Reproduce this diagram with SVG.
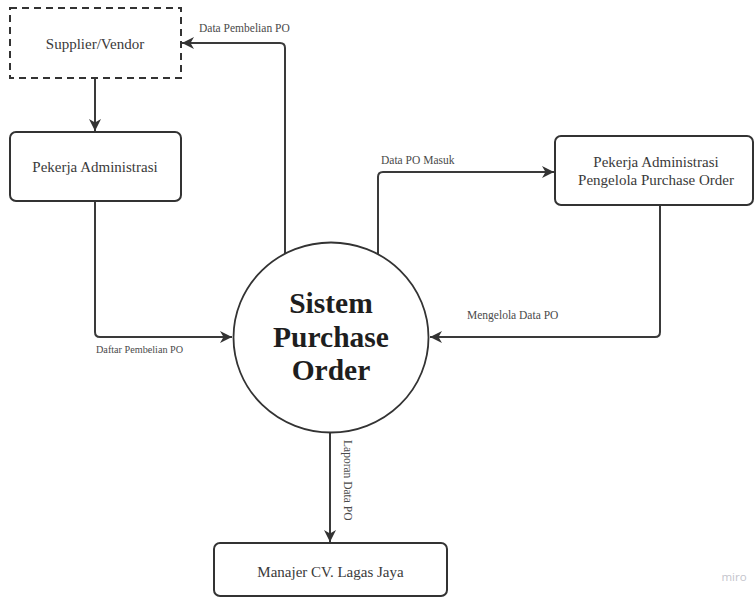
<svg xmlns="http://www.w3.org/2000/svg" width="754" height="598" viewBox="0 0 754 598">
<style>
.box{fill:#fff;stroke:#333;stroke-width:2}
.dash{fill:#fff;stroke:#333;stroke-width:2;stroke-dasharray:7 5}
.circ{fill:#fff;stroke:#333;stroke-width:1.8}
.lbl{font-family:"Liberation Serif","Times New Roman",serif;font-size:15px;fill:#3a3a3a;text-anchor:middle}
.title{font-family:"Liberation Serif","Times New Roman",serif;font-size:29.5px;font-weight:bold;fill:#1e1e1e;text-anchor:middle}
.clbl{font-family:"Liberation Serif","Times New Roman",serif;font-size:11.5px;fill:#4a4a4a}
.conn{fill:none;stroke:#3a3a3a;stroke-width:2;marker-end:url(#arr)}
</style>
<defs>
<marker id="arr" markerUnits="userSpaceOnUse" markerWidth="14" markerHeight="14" refX="12" refY="6" orient="auto">
<path d="M0,0 L12,6 L0,12 L3.5,6 Z" fill="#333"/>
</marker>
</defs>
<rect width="754" height="598" fill="#fff"/>
<g id="connectors">
<path class="conn" d="M95,78 L95,131"/>
<path class="conn" d="M285,254 L285,48 Q285,43 280,43 L182,43"/>
<path class="conn" d="M95,201 L95,332 Q95,337 100,337 L232,337"/>
<path class="conn" d="M378,254 L378,177 Q378,172 383,172 L554,172"/>
<path class="conn" d="M660,205 L660,332 Q660,337 655,337 L430,337"/>
<path class="conn" d="M330,432 L330,542"/>
<text class="clbl" x="199" y="32">Data Pembelian PO</text>
<text class="clbl" x="381" y="164">Data PO Masuk</text>
<text class="clbl" x="467" y="319">Mengelola Data PO</text>
<text class="clbl" x="96" y="353" style="font-size:10.2px">Daftar Pembelian PO</text>
<text class="clbl" transform="translate(343.5,440) rotate(90)">Laporan Data PO</text>
</g>
<g id="supplier">
<rect class="dash" x="10" y="8" width="171" height="70"/>
<text class="lbl" x="95" y="49">Supplier/Vendor</text>
</g>
<g id="pekerja-admin">
<rect class="box" x="10" y="132" width="171" height="69" rx="6"/>
<text class="lbl" x="95" y="172">Pekerja Administrasi</text>
</g>
<g id="pengelola-po">
<rect class="box" x="555" y="136" width="198" height="69" rx="6"/>
<text class="lbl" x="656" y="167">Pekerja Administrasi</text>
<text class="lbl" x="656" y="185">Pengelola Purchase Order</text>
</g>
<g id="sistem">
<ellipse class="circ" cx="331" cy="337.5" rx="97.5" ry="95"/>
<text class="title" x="331" y="313">Sistem</text>
<text class="title" x="331" y="347">Purchase</text>
<text class="title" x="331" y="380">Order</text>
</g>
<g id="manajer">
<rect class="box" x="214" y="543" width="233" height="53" rx="6"/>
<text class="lbl" x="330.5" y="577">Manajer CV. Lagas Jaya</text>
</g>
<text x="734" y="581" text-anchor="middle" style="font-family:'Open Sans','Liberation Sans',sans-serif;font-size:11.5px;fill:#c4c4cc">miro</text>
</svg>
